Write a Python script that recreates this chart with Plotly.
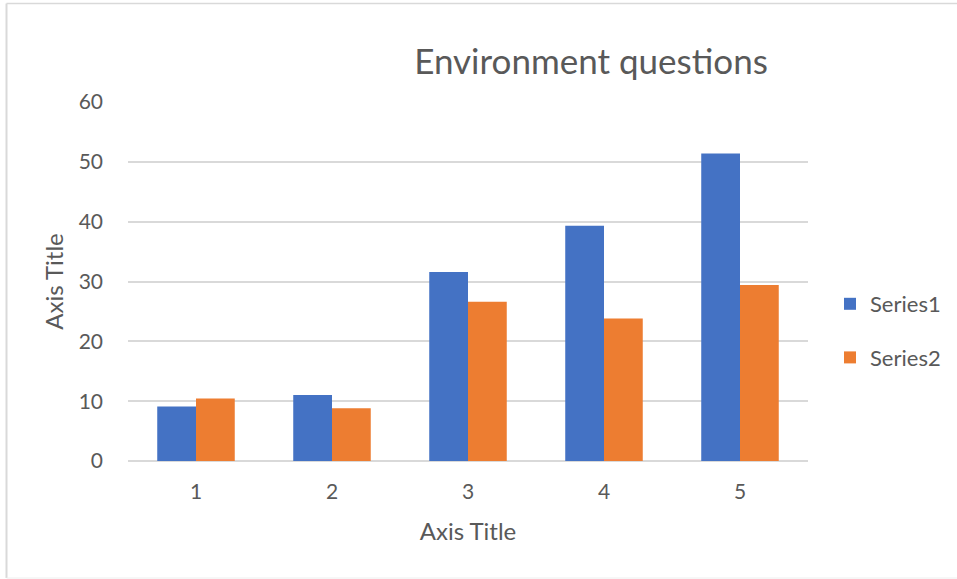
import plotly.graph_objects as go

# Question numbers and the two response series
categories = [1, 2, 3, 4, 5]
series1 = [9.1, 11.05, 31.6, 39.3, 51.4]
series2 = [10.45, 8.8, 26.6, 23.8, 29.4]
y_ticks = [0, 10, 20, 30, 40, 50, 60]

BLUE = "#4472C4"
ORANGE = "#ED7D31"
TEXT = "#595959"
GRID = "#D9D9D9"
FONT = "Lato, Open Sans, sans-serif"

W, H = 957, 579
L, R, T, B = 128, 149, 102, 118
plot_w = W - L - R
plot_h = H - T - B

fig = go.Figure()
fig.add_trace(go.Bar(x=categories, y=series1, name="Series1",
                     marker=dict(color=BLUE, line=dict(width=0)),
                     legendgroup="s1"))
fig.add_trace(go.Bar(x=categories, y=series2, name="Series2",
                     marker=dict(color=ORANGE, line=dict(width=0)),
                     legendgroup="s2"))

# Outer chart-area frame (light grey), expressed in paper units
def px_x(px):
    return (px - L) / plot_w

def px_y(py):
    return (H - B - py) / plot_h

fig.add_shape(type="line", xref="paper", yref="paper",
              x0=px_x(6.5), x1=px_x(6.5), y0=px_y(3.5), y1=px_y(578),
              line=dict(color=GRID, width=2), layer="below")
fig.add_shape(type="line", xref="paper", yref="paper",
              x0=px_x(6.5), x1=px_x(960), y0=px_y(3.5), y1=px_y(3.5),
              line=dict(color=GRID, width=1.5), layer="below")
fig.add_shape(type="line", xref="paper", yref="paper",
              x0=px_x(6.5), x1=px_x(960), y0=px_y(578), y1=px_y(578),
              line=dict(color="#EEEEEE", width=1), layer="below")

fig.update_layout(
    width=W, height=H,
    margin=dict(l=L, r=R, t=T, b=B, autoexpand=False),
    paper_bgcolor="white", plot_bgcolor="white",
    font=dict(family=FONT, color=TEXT, size=21),
    barmode="group", bargap=0.43, bargroupgap=0,
    title=dict(text="Environment questions", font=dict(size=35, color=TEXT, family=FONT),
               xref="container", yref="container",
               x=591 / W, y=1 - 62 / H, xanchor="center", yanchor="middle"),
    legend=dict(x=px_x(830), y=px_y(283), xanchor="left", yanchor="top",
                font=dict(size=22, color=TEXT, family=FONT),
                tracegroupgap=22, bgcolor="rgba(0,0,0,0)"),
    showlegend=True,
)

fig.update_xaxes(
    range=[0.5, 5.5], tickmode="array", tickvals=categories,
    ticktext=[str(c) for c in categories],
    showgrid=False, zeroline=False, showline=False, ticks="",
    ticklabelstandoff=16,
    title=dict(text="Axis Title", standoff=21, font=dict(size=24, color=TEXT)),
)
fig.update_yaxes(
    range=[0, 60], tickmode="array", tickvals=y_ticks,
    showgrid=True, gridcolor=GRID, gridwidth=1.5,
    zeroline=True, zerolinecolor=GRID, zerolinewidth=1.5,
    showline=False, ticks="", ticklabelstandoff=24,
    title=dict(text="Axis Title", standoff=8, font=dict(size=24, color=TEXT)),
)

fig.write_html("out.html")
